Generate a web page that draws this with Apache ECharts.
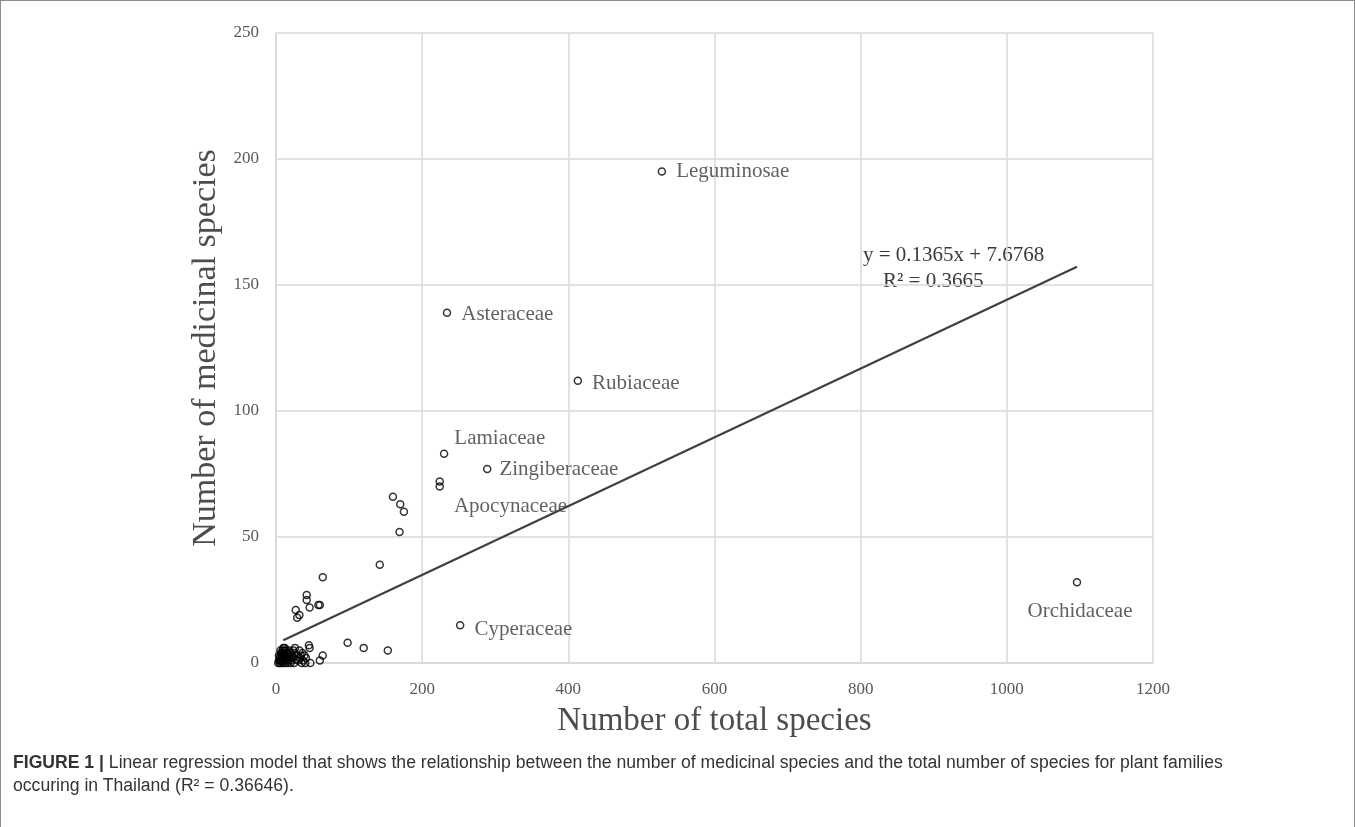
<!DOCTYPE html>
<html>
<head>
<meta charset="utf-8">
<script src="https://cdn.jsdelivr.net/npm/echarts@6/dist/echarts.min.js"></script>
<style>
html,body{margin:0;padding:0;background:#fff;}
#wrap{position:relative;width:1355px;height:827px;box-sizing:border-box;border-left:1px solid #8c8c8c;border-top:1px solid #8c8c8c;border-right:1px solid #8c8c8c;}
#chart{position:absolute;left:0;top:0;width:1353px;height:826px;}
#cap{position:absolute;left:12px;top:750px;width:1330px;font-family:"Liberation Sans Narrow","Liberation Sans","Arial Narrow",sans-serif;font-size:17.6px;line-height:23px;color:#333;white-space:nowrap;}
#cap b{font-weight:bold;color:#333;}
</style>
</head>
<body>
<div id="wrap">
<div id="chart"></div>
<div id="cap"><b>FIGURE 1 |</b> Linear regression model that shows the relationship between the number of medicinal species and the total number of species for plant families<br>occuring in Thailand (R² = 0.36646).</div>
</div>
<script>
// Labelled families
const labelNames = ["Leguminosae","Asteraceae","Rubiaceae","Lamiaceae","Zingiberaceae","Apocynaceae","Cyperaceae","Orchidaceae"];
const labelTotal = [528, 234, 413, 230, 289, 224, 252, 1096];
const labelMedicinal = [195, 139, 112, 83, 77, 72, 15, 32];
// Unlabelled families
const otherTotal = [224,160,170,175,169,142,98,120,153,64,42,42,46,58,60,27,32,29,45,46,64,60,47,39,41,32,34,25,27,
  3,4,5,5,6,6,7,7,8,8,9,9,10,10,11,11,12,12,13,13,14,14,15,15,16,16,17,18,18,19,20,20,21,22,23,24,25,26,28,30,33,35,36,37,40,4,6,8,10,12];
const otherMedicinal = [70,66,63,60,52,39,8,6,5,34,27,25,22,23,23,21,19,18,7,6,3,1,0,3,2,5,3,4,1.5,
  0,1,2,0,3,1,4,0,2,1,5,3,0,2,4,1,3,6,0,2,5,1,3,4,0,2,1,5,3,2,0,4,1,3,2,5,0,6,3,1,2,0,4,1,0,3,5,4,6,5];
// Trendline (Excel linear fit)
const trendSlope = 0.1365, trendIntercept = 7.6768;
const trendRange = [10, 1096];
const xTicks = [0,200,400,600,800,1000,1200];
const yTicks = [0,50,100,150,200,250];

const serif = '"Liberation Serif","Times New Roman",serif';
const labelPos = {
  "Leguminosae": {position:'right', distance:10, offset:[0,0]},
  "Asteraceae": {position:'right', distance:10, offset:[0,2]},
  "Rubiaceae": {position:'right', distance:10, offset:[0,3]},
  "Lamiaceae": {position:'right', distance:6, offset:[0,-15]},
  "Zingiberaceae": {position:'right', distance:8, offset:[0,1]},
  "Apocynaceae": {position:'right', distance:10, offset:[0,25]},
  "Cyperaceae": {position:'right', distance:10, offset:[0,4]},
  "Orchidaceae": {position:'bottom', distance:14, offset:[3,0]}
};
const labelled = labelNames.map((n,i)=>({
  name:n, value:[labelTotal[i], labelMedicinal[i]],
  label:Object.assign({show:true, formatter:n, fontFamily:serif, fontSize:21, color:'#3a3a3a'}, labelPos[n])
}));
const others = otherTotal.map((x,i)=>[x, otherMedicinal[i]]);
const trend = trendRange.map(x=>[x, trendSlope*x+trendIntercept]);

const marker = {color:'rgba(0,0,0,0)', borderColor:'#000', borderWidth:1.5};
const chart = echarts.init(document.getElementById('chart'), null, {renderer:'canvas'});
chart.setOption({
  animation:false,
  grid:{left:275, right:201, top:32, bottom:164, containLabel:false},
  xAxis:{type:'value', min:xTicks[0], max:xTicks[xTicks.length-1], interval:xTicks[1]-xTicks[0],
    name:'Number of total species', nameLocation:'middle', nameGap:42,
    nameTextStyle:{fontFamily:serif, fontSize:33, color:'#4d4d4d'},
    axisLine:{show:true, lineStyle:{color:'#d9d9d9', width:1.5}},
    axisTick:{show:false},
    axisLabel:{fontFamily:serif, fontSize:17, color:'#595959', margin:18, formatter:v=>String(v)},
    splitLine:{show:true, lineStyle:{color:'#d9d9d9', width:1.5}}
  },
  yAxis:{type:'value', min:yTicks[0], max:yTicks[yTicks.length-1], interval:yTicks[1]-yTicks[0],
    name:'Number of medicinal species', nameLocation:'middle', nameGap:48,
    nameTextStyle:{fontFamily:serif, fontSize:34, color:'#4d4d4d'},
    axisLine:{show:true, lineStyle:{color:'#d9d9d9', width:1.5}},
    axisTick:{show:false},
    axisLabel:{fontFamily:serif, fontSize:17, color:'#595959', margin:17, formatter:v=>String(v)},
    splitLine:{show:true, lineStyle:{color:'#d9d9d9', width:1.5}}
  },
  series:[
    {type:'line', data:trend, symbol:'none', lineStyle:{color:'#404040', width:2.2}, z:1, silent:true},
    {type:'scatter', data:others, symbol:'circle', symbolSize:7, itemStyle:marker, z:2},
    {type:'scatter', data:labelled, symbol:'circle', symbolSize:7, itemStyle:marker, z:3}
  ],
  graphic:[
    {type:'text', left:862, top:244, style:{text:'y = 0.1365x + 7.6768', font:'21px '+serif, fill:'#3a3a3a'}},
    {type:'text', left:882, top:270, style:{text:'R² = 0.3665', font:'21px '+serif, fill:'#3a3a3a'}}
  ]
});
</script>
</body>
</html>
